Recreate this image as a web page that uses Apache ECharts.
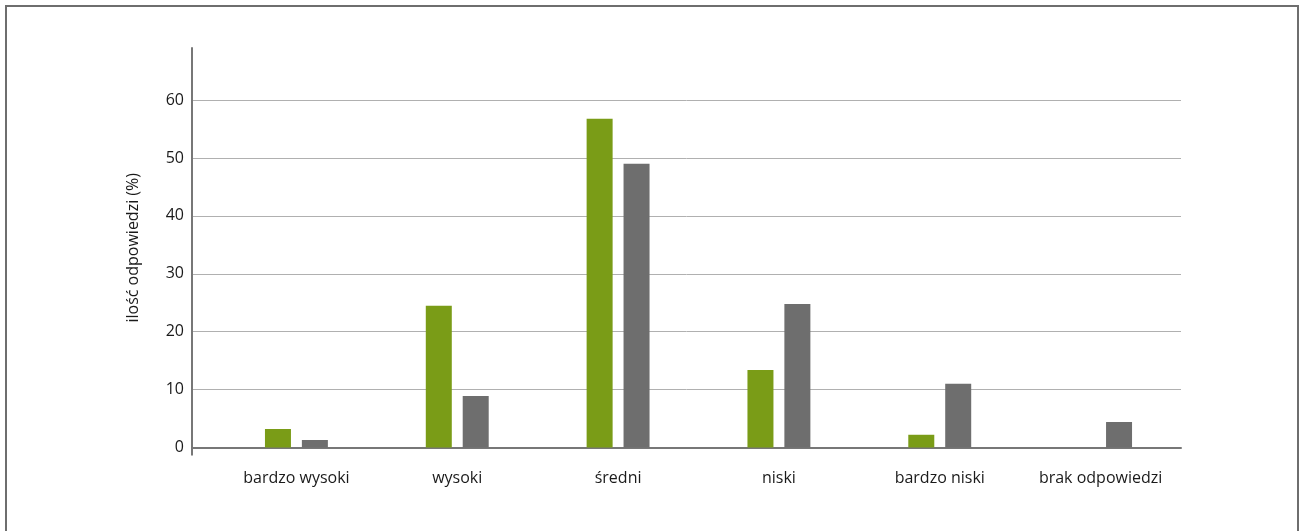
<!DOCTYPE html>
<html>
<head>
<meta charset="utf-8">
<script src="https://cdn.jsdelivr.net/npm/echarts@6/dist/echarts.min.js"></script>
<style>
  html, body { margin: 0; padding: 0; background: #fff; }
  #chart { width: 1301px; height: 531px; }
</style>
</head>
<body>
<div id="chart"></div>
<script>
// Response categories and the share of answers (%) for the two groups
const categories = ['bardzo wysoki', 'wysoki', 'średni', 'niski', 'bardzo niski', 'brak odpowiedzi'];
const greenValues = [3.2, 24.5, 56.8, 13.4, 2.2, 0];
const grayValues = [1.3, 8.9, 49.0, 24.8, 11.0, 4.4];
const yTicks = [0, 10, 20, 30, 40, 50, 60];
const yAxisName = 'ilość odpowiedzi (%)';

const FONT = 'Open Sans';
const TEXT = '#1a1a1a';
const AXIS = '#777777';

const chart = echarts.init(document.getElementById('chart'), null, { renderer: 'canvas' });

chart.setOption({
  animation: false,
  backgroundColor: '#ffffff',
  textStyle: { fontFamily: FONT },
  graphic: [{
    type: 'rect',
    shape: { x: 6, y: 6, width: 1292, height: 530 },
    style: { fill: 'none', stroke: '#6e6e6e', lineWidth: 2 },
    silent: true
  }],
  grid: [
    // frame grid: value axis, gridlines and the baseline
    { left: 192, right: 120, top: 48, bottom: 83.5 },
    // bar grid: category bands
    { left: 216, right: 120, top: 48, bottom: 83.5 }
  ],
  xAxis: [
    {
      gridIndex: 0,
      type: 'value',
      min: 0,
      max: 1,
      axisLine: { show: true, lineStyle: { color: AXIS, width: 2 } },
      axisTick: { show: true, length: 8, customValues: [0], lineStyle: { color: AXIS, width: 2 } },
      axisLabel: { show: false },
      splitLine: { show: false }
    },
    {
      gridIndex: 1,
      type: 'category',
      data: categories,
      axisLine: { show: false },
      axisTick: { show: false },
      axisLabel: { color: TEXT, fontSize: 16, margin: 23, fontFamily: FONT, interval: 0 }
    }
  ],
  yAxis: [
    {
      gridIndex: 0,
      type: 'value',
      min: 0,
      max: 69,
      interval: 10,
      name: yAxisName,
      nameLocation: 'middle',
      nameGap: 51,
      nameTextStyle: { color: TEXT, fontSize: 16, fontFamily: FONT },
      axisLine: { show: true, lineStyle: { color: AXIS, width: 2 } },
      axisTick: { show: false },
      axisLabel: {
        color: TEXT, fontSize: 16, margin: 8, fontFamily: FONT, showMaxLabel: false,
        formatter: (v) => (yTicks.includes(v) ? String(v) : '')
      },
      splitLine: { show: true, showMaxLine: false, lineStyle: { color: '#b0b0b0', width: 1 } }
    },
    {
      gridIndex: 1,
      type: 'value',
      min: 0,
      max: 69,
      interval: 10,
      show: false,
      splitLine: { show: false }
    }
  ],
  series: [
    {
      type: 'bar',
      xAxisIndex: 1,
      yAxisIndex: 1,
      data: greenValues,
      barWidth: 26,
      barGap: '42%',
      itemStyle: { color: '#7a9c17' }
    },
    {
      type: 'bar',
      xAxisIndex: 1,
      yAxisIndex: 1,
      data: grayValues,
      barWidth: 26,
      barGap: '42%',
      itemStyle: { color: '#6e6e6e' }
    }
  ]
});
</script>
</body>
</html>
